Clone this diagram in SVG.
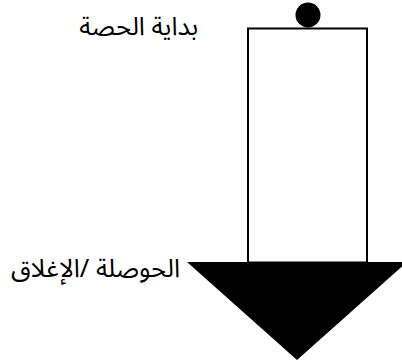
<svg xmlns="http://www.w3.org/2000/svg" width="402" height="363" viewBox="0 0 402 363">
<style>
.lbl{font-family:"Noto Sans Arabic","DejaVu Sans",sans-serif;font-size:25.5px;fill:#000;text-anchor:end}
.shape{fill:#000}
</style>
<rect width="402" height="363" fill="#fff"/>
<g id="start">
<circle class="shape" cx="308" cy="15" r="12.5"/>
<text class="lbl" x="198" y="35">بداية الحصة</text>
</g>
<g id="connectors">
<rect x="248" y="28.5" width="119" height="234" fill="none" stroke="#000" stroke-width="2"/>
</g>
<g id="end">
<polygon class="shape" points="187,262 407,262 297,360"/>
<text class="lbl" x="180" y="277">الحوصلة /الإغلاق</text>
</g>
</svg>
